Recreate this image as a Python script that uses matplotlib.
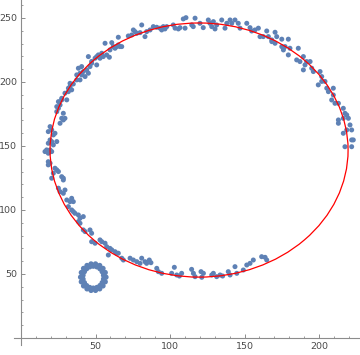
"""
Ajuste de elipse sobre una nube de puntos (estilo Mathematica).
Salida: out.png
"""

import matplotlib
matplotlib.use("Agg")
import matplotlib.pyplot as plt
from matplotlib.patches import Ellipse
from matplotlib.ticker import FixedLocator

BLUE = "#5e81b5"
RED = "#ff0000"
AXIS = "#8c8c8c"
LABEL = "#4a4a4a"

# Puntos del arco grande
arc_x = [164.9, 163.8, 161.5, 155.9, 153.7, 151.5, 149.2, 144.8, 143.6, 140.3, 139.1, 135.3,
         133.6, 131.3, 129.1, 128.0, 122.4, 121.3, 120.8, 116.8, 115.7, 114.5, 107.8, 106.3,
         104.5, 102.9, 101.1, 94.4, 92.2, 91.1, 87.2, 86.1, 84.3, 83.2, 81.0, 79.9, 77.7, 75.4,
         73.2, 68.7, 67.6, 65.3, 64.2, 63.1, 60.9, 59.7, 58.6, 57.5, 56.4, 54.2, 53.0, 49.7,
         47.4, 47.4, 46.3, 43.0, 41.8, 39.6, 38.5, 41.8, 39.6, 38.5, 36.2, 35.1, 34.0, 31.8,
         35.1, 34.0, 32.9, 30.7, 29.5, 28.4, 26.2, 25.1,
         28.4, 28.4, 27.3, 20.6, 21.7, 25.1, 24.0, 22.8, 18.3, 19.5, 18.3, 20.6, 18.3, 16.1,
         17.2, 19.5, 21.7, 18.3, 24.0, 20.6, 19.5, 22.8, 21.7, 18.3, 20.6, 19.5, 26.2, 28.4,
         27.3, 29.5, 28.4, 24.0, 25.1, 24.0, 26.2, 25.1, 27.3, 27.3, 30.7, 29.5, 31.8, 34.0,
         31.8, 32.9, 35.1, 32.9, 37.4, 39.6, 43.0, 40.7, 37.4, 39.6, 45.2, 41.8, 44.1, 38.5,
         40.7, 46.3, 50.8, 47.4, 47.4, 49.7, 53.0, 50.8, 45.2, 55.2, 59.3, 51.9, 57.5, 54.2,
         59.7, 63.1, 61.9, 64.2, 66.4, 67.6, 65.3, 56.4, 60.9, 65.3, 72.0, 74.3, 77.7, 76.5,
         75.4, 79.9, 83.2, 84.3, 81.0, 86.6, 88.8, 91.1, 93.3, 95.5, 94.4, 96.6, 97.8, 102.2,
         103.4, 105.6, 106.7, 108.9, 110.7, 110.1, 114.6, 115.6, 116.8, 120.1, 122.3, 125.7,
         126.8, 128.0, 129.1, 130.2, 131.3, 134.7, 136.9, 138.1, 140.3, 141.4, 143.6, 145.8,
         147.0, 151.5, 153.7, 154.8, 157.0, 159.3, 160.4, 162.6, 164.9, 166.0, 168.3, 170.5,
         171.6, 168.3, 170.5, 175.0, 175.0, 176.1, 177.2, 176.1, 179.4, 180.5, 179.4, 186.1,
         185.0, 187.2, 189.5, 190.6, 191.7, 194.0, 189.5, 195.1, 196.2, 200.7, 201.8, 201.8,
         199.5, 204.0, 205.2, 206.3, 209.6, 209.6, 208.5, 210.7, 213.0, 216.3, 217.4, 218.6,
         216.3, 213.0, 213.0, 219.7, 220.8, 221.9, 218.6, 216.3, 221.9, 223.0, 217.4, 221.9]
arc_y = [60.9, 63.0, 63.5, 60.9, 58.3, 57.0, 53.1, 50.5, 55.7, 49.2, 51.8, 48.4,
         49.2, 47.9, 50.5, 49.2, 50.5, 47.4, 51.8, 47.9, 50.5, 53.6, 50.5, 48.4,
         49.2, 55.2, 50.5, 50.5, 51.8, 54.4, 58.8, 60.9, 58.3, 59.6, 62.3, 58.3, 59.6, 60.9,
         62.3, 60.9, 62.3, 66.2, 66.2, 67.4, 68.8, 70.0, 64.8, 71.3, 74.0, 75.2, 76.6, 74.0,
         75.2, 81.8, 84.4, 83.1, 84.4, 89.6, 90.9, 94.8, 93.5, 96.1, 97.4, 98.7, 100.0, 102.6,
         106.5, 109.1, 106.5, 107.8, 115.6, 113.0, 114.3, 117.0,
         123.4, 124.8, 126.0, 124.8, 128.7, 130.0, 131.3, 132.6, 135.2, 136.5, 137.7, 145.6,
         144.3, 145.6, 146.9, 146.9, 150.8, 152.1, 153.4, 153.4, 154.7, 159.9, 158.6, 161.2,
         162.5, 165.1, 167.7, 170.3, 171.6, 171.6, 175.5, 176.8, 179.4, 180.7, 182.0, 184.6,
         185.9, 187.2, 186.0, 191.2, 192.4, 193.8, 195.1, 196.3, 198.4, 198.9, 201.6, 201.6,
         204.2, 205.5, 205.5, 206.8, 206.8, 208.1, 209.4, 210.7, 212.0, 212.0, 213.3, 214.6,
         216.0, 218.5, 218.5, 219.8, 219.8, 219.8, 219.3, 221.1, 221.1, 222.4, 225.0, 226.3,
         227.6, 227.6, 227.6, 227.6, 228.9, 230.2, 230.7, 234.9, 235.9, 236.7, 238.0, 239.3,
         240.6, 238.5, 235.4, 239.3, 244.5, 240.6, 243.2, 242.7, 242.0, 243.2, 240.6, 241.4,
         243.2, 244.5, 242.0, 241.4, 242.4, 249.2, 250.2, 242.0, 244.5, 243.2, 249.8, 245.8,
         242.4, 248.4, 245.8, 243.2, 247.1, 241.4, 244.5, 248.4, 242.0, 245.8, 248.4, 245.8,
         248.4, 245.8, 242.0, 245.8, 242.4, 239.8, 240.6, 242.0, 235.4, 235.4, 239.8, 235.4,
         232.8, 238.8, 235.4, 231.5, 230.2, 233.4, 227.6, 226.3, 227.6, 225.0, 233.4, 226.3,
         221.1, 226.3, 217.2, 215.9, 219.8, 213.3, 215.9, 215.9, 209.4, 210.7, 208.1, 208.1,
         204.2, 200.4, 197.7, 200.4, 195.1, 192.4, 195.1, 189.8, 185.9, 183.3, 183.3, 179.4,
         175.5, 174.2, 171.6, 170.3, 167.7, 171.6, 166.4, 162.5, 162.5, 159.9, 154.7, 154.7,
         149.4, 149.4]

# Anillo pequeño abajo a la izquierda (borde exterior e interior alternados)
ring_x = [57.0, 55.4, 56.5, 54.5, 55.0, 53.0, 52.8, 50.9, 50.0, 48.5, 47.0, 46.1,
          44.3, 44.0, 42.0, 42.5, 40.5, 41.6, 40.0, 41.6, 40.5, 42.5, 42.0, 44.0,
          44.3, 46.1, 47.0, 48.5, 50.0, 50.9, 52.8, 53.0, 55.0, 54.5, 56.5, 55.4]
ring_y = [47.5, 49.0, 51.1, 51.8, 54.3, 54.1, 56.6, 55.6, 57.8, 56.1, 57.8, 55.6,
          56.6, 54.1, 54.3, 51.8, 51.1, 49.0, 47.5, 46.0, 43.9, 43.2, 40.7, 40.9,
          38.4, 39.4, 37.2, 38.9, 37.2, 39.4, 38.4, 40.9, 40.7, 43.2, 43.9, 46.0]

# Elipse ajustada: centro y ejes completos
fit_center = (119.5, 146.8)
fit_width = 200.0
fit_height = 198.5

x_ticks = [50, 100, 150, 200]
y_ticks = [50, 100, 150, 200, 250]
x_minor = [v for v in range(10, 230, 10) if v % 50]
y_minor = [v for v in range(10, 270, 10) if v % 50]


def main():
    fig = plt.figure(figsize=(3.6, 3.55), dpi=100)
    ax = fig.add_axes([0, 0, 1, 1])
    ax.set_xlim(-14.1, 227.5)
    ax.set_ylim(-13.3, 264.0)

    ax.scatter(arc_x, arc_y, s=13, color=BLUE, edgecolors="none", zorder=2)
    ax.scatter(ring_x, ring_y, s=15, color=BLUE, edgecolors="none", zorder=2)
    ax.add_patch(Ellipse(fit_center, fit_width, fit_height, fill=False,
                         edgecolor=RED, linewidth=0.9, zorder=3))

    # Ejes cruzando en el origen, al estilo Mathematica
    for side in ("top", "right"):
        ax.spines[side].set_visible(False)
    ax.spines["left"].set_position(("data", 0))
    ax.spines["bottom"].set_position(("data", 0))
    ax.spines["left"].set_bounds(-5.5, 264)
    ax.spines["bottom"].set_bounds(-5, 227.5)
    for side in ("left", "bottom"):
        ax.spines[side].set_color(AXIS)
        ax.spines[side].set_linewidth(0.8)

    ax.xaxis.set_major_locator(FixedLocator(x_ticks))
    ax.yaxis.set_major_locator(FixedLocator(y_ticks))
    ax.xaxis.set_minor_locator(FixedLocator(x_minor))
    ax.yaxis.set_minor_locator(FixedLocator(y_minor))
    ax.tick_params(which="major", direction="in", length=3, width=0.7, color=AXIS,
                   labelsize=6.8, labelcolor=LABEL, pad=3)
    ax.tick_params(which="minor", direction="in", length=1.6, width=0.6, color=AXIS)
    ax.patch.set_visible(False)

    fig.savefig("out.png", dpi=100, facecolor="white")
    plt.close(fig)


if __name__ == "__main__":
    main()
